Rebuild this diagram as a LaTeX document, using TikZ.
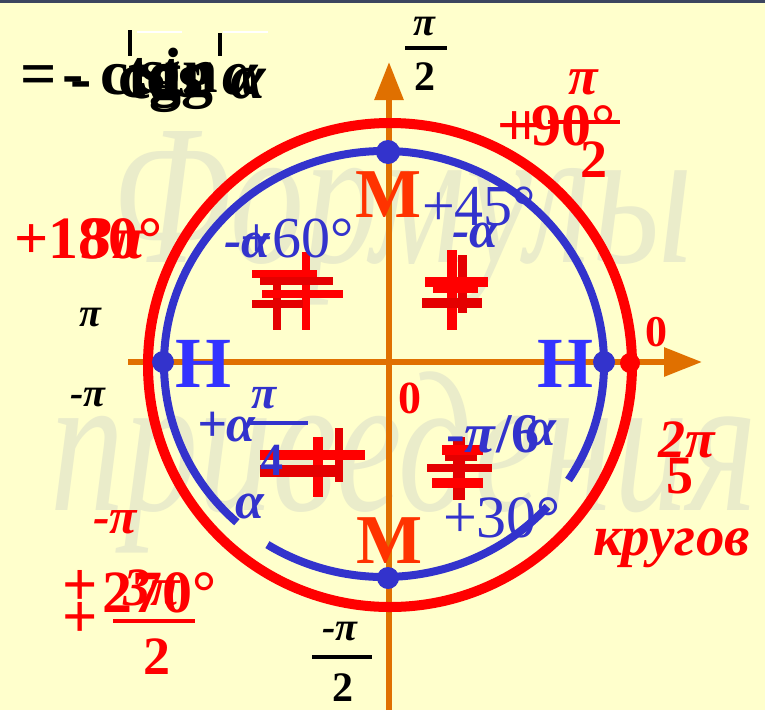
\documentclass[tikz,border=0pt]{standalone}
\usepackage{fontspec}
\setmainfont{Liberation Serif}
\usetikzlibrary{arrows.meta}
\definecolor{bg}{RGB}{255,255,204}
\definecolor{wm}{RGB}{234,236,202}
\definecolor{axiscol}{RGB}{224,112,0}
\definecolor{ringred}{RGB}{255,0,0}
\definecolor{dred}{RGB}{228,0,0}
\definecolor{ringblue}{RGB}{51,51,204}
\definecolor{hblue}{RGB}{51,51,255}
\definecolor{morange}{RGB}{255,51,0}
\definecolor{topline}{RGB}{60,70,95}
\newcommand\fsz[1]{\fontsize{#1}{#1}\selectfont}
\begin{document}
\begin{tikzpicture}[x=1pt,y=-1pt,
  lbl/.style={inner sep=0pt, outer sep=0pt},
  bw/.style={lbl, anchor=base west},
  axisline/.style={axiscol, line width=6pt, -{Triangle[length=38pt,width=28pt]}},
  redring/.style={ringred, line width=10pt},
  bluering/.style={ringblue, line width=8pt},
  crossA/.style={ringred, line width=8pt},
  crossB/.style={dred, line width=8pt},
  fbar/.style={line width=4.5pt},
  wmark/.style={bw, wm, font={\fsz{200}\itshape}, xscale=0.74},
  blob/.style={bw, black, font={\fsz{64}\bfseries}},
  blobi/.style={bw, black, font={\fsz{64}\bfseries\itshape}},
  mlet/.style={lbl, anchor=base, morange, font={\fsz{70}\bfseries}},
  hlet/.style={lbl, anchor=base, hblue, font={\fsz{72}\bfseries}},
  bdeg/.style={bw, ringblue, font={\fsz{58}}},
  balpha/.style={bw, ringblue, font={\fsz{52}\bfseries\itshape}},
  rbig/.style={bw, ringred, font={\fsz{60}\bfseries}},
  rpi/.style={lbl, ringred, font={\fsz{54}\bfseries\itshape}},
  rnum/.style={lbl, ringred, font={\fsz{54}\bfseries}},
  kpi/.style={lbl, black, font={\fsz{40}\bfseries\itshape}},
  knum/.style={lbl, black, font={\fsz{42}\bfseries}}
]
\useasboundingbox (0,0) rectangle (765,710);
\fill[bg] (0,0) rectangle (765,710);
\fill[topline] (0,0) rectangle (765,3);

% watermark
\node[wmark] (wm1) at (112,262) {Формулы};
\node[wmark] (wm2) at (50,510) {приведения};

% axes
\coordinate (vbot) at (389,710);
\coordinate (vtop) at (389,62);
\coordinate (hleft) at (128,362);
\coordinate (hright) at (702,362);
\draw[axisline] (vbot) -- (vtop);
\draw[axisline] (hleft) -- (hright);

% rings
\coordinate (rc) at (390,365);
\coordinate (bc) at (384,364);
\draw[redring] (rc) circle[radius=242];
\draw[bluering] ([shift={(33:220 and 213)}]bc) arc[start angle=33,end angle=-228,x radius=220,y radius=213];
\draw[bluering] ([shift={(-238:220 and 213)}]bc) arc[start angle=-238,end angle=-318,x radius=220,y radius=213];

% dots
\fill[ringblue] (388,152) circle[radius=12];
\fill[ringblue] (163,362) circle[radius=11];
\fill[ringblue] (604,362) circle[radius=11];
\fill[ringblue] (388,578) circle[radius=11];
\fill[ringred] (630,363) circle[radius=10];

% red crosses
\draw[crossA] (306,252) -- (306,330);
\draw[crossB] (277,275) -- (277,330);
\draw[crossA] (252,274) -- (317,274);
\draw[crossB] (260,281) -- (333,281);
\draw[crossA] (262,294) -- (343,294);
\draw[crossB] (252,304) -- (303,304);

\draw[crossA, line width=10pt] (452,250) -- (452,330);
\draw[crossB, line width=9pt] (462,255) -- (462,313);
\draw[crossA, line width=10pt] (425,282) -- (488,282);
\draw[crossB, line width=10pt] (422,303) -- (482,303);
\draw[crossA, line width=6pt] (433,290) -- (478,290);

\draw[crossA, line width=10pt] (318,437) -- (318,497);
\draw[crossB, line width=8pt] (339,428) -- (339,482);
\draw[crossA, line width=10pt] (260,455) -- (365,455);
\draw[crossB, line width=12pt] (260,471) -- (343,471);

\draw[crossB, line width=12pt] (459,437) -- (459,500);
\draw[crossA, line width=10pt] (442,450) -- (483,450);
\draw[crossB, line width=8pt] (427,468) -- (492,468);
\draw[crossA, line width=10pt] (432,483) -- (483,483);
\draw[crossB, line width=6pt] (445,458) -- (477,458);

% M and H
\node[mlet] (mtop) at (389,217) {M};
\node[mlet] (mbot) at (390,563) {M};
\node[hlet] (hl) at (203,387) {H};
\node[hlet] (hr) at (565,387) {H};

% black blob top-left (overlapping formulas)
\draw[white, line width=2pt] (137,32) -- (182,32);
\draw[white, line width=2pt] (223,32) -- (268,32);
\draw[black, line width=4pt] (130,30) -- (130,56);
\draw[black, line width=4pt] (220,33) -- (220,56);
\node[blob] (b1) at (20,95) {=};
\node[blob] (b2) at (62,94) {-};
\node[blob] (b3) at (70,99) {-};
\node[blob] (b4) at (100,94) {ctg};
\node[blob] (b5) at (118,97) {cos};
\node[blob] (b6) at (140,92) {sin};
\node[blob] (b7) at (160,95) {tg};
\node[blob] (b8) at (128,98) {tg};
\node[blobi] (b9) at (222,94) {α};
\node[blobi] (b10) at (230,98) {α};

% black pi/2 top
\node[kpi] (tpi) at (424,27) {π};
\draw[black, fbar] (405,48) -- (447,48);
\node[knum] (t2) at (425,77) {2};

% black pi, -pi
\node[kpi] (kpi1) at (90,318) {π};
\node[kpi] (kpi2) at (88,398) {-π};

% black -pi/2 bottom
\node[kpi] (bpi) at (340,632) {-π};
\draw[black, fbar] (312,657) -- (372,657);
\node[knum] (b2n) at (343,688) {2};

% red zeros
\node[lbl, ringred, font={\fsz{44}\bfseries}] (z1) at (656,332) {0};
\node[lbl, ringred, font={\fsz{46}\bfseries}] (z2) at (410,398) {0};

% red +180 / 3pi
\node[rbig] (r180) at (14,258) {+180°};
\node[bw, ringred, font={\fsz{60}\bfseries\itshape}] (r3pi) at (82,258) {3π};

% red +90 / pi/2
\node[rbig] (r90) at (497,145) {+90°};
\node[rbig] (r90b) at (510,145) {+};
\node[rpi] (rpiT) at (583,82) {π};
\draw[ringred, fbar] (548,122) -- (620,122);
\node[rnum] (r2T) at (594,160) {2};

% red -pi, +270, 3pi/2
\node[rpi, font={\fsz{50}\bfseries\itshape}] (rmpi) at (115,522) {-π};
\node[lbl, ringred, font={\fsz{62}\bfseries}] (rpl1) at (80,588) {+};
\node[lbl, ringred, font={\fsz{62}\bfseries}] (rpl2) at (80,620) {+};
\node[rbig] (r270) at (102,612) {270°};
\node[rpi] (r3piB) at (152,588) {3π};
\draw[ringred, fbar] (113,621) -- (195,621);
\node[rnum] (r2B) at (157,657) {2};

% red 2pi/5, кругов
\node[rpi] (r2pi) at (687,440) {2π};
\node[rnum] (r5) at (680,476) {5};
\node[bw, ringred, font={\fsz{57}\bfseries\itshape}] (krug) at (593,555) {кругов};

% blue labels
\node[bdeg] (d60) at (240,257) {+60°};
\node[balpha] (a1) at (224,257) {-α};
\node[bdeg] (d45) at (422,225) {+45°};
\node[balpha] (a2) at (452,247) {-α};
\node[balpha] (a3) at (197,441) {+α};
\node[lbl, ringblue, font={\fsz{46}\bfseries\itshape}] (bpi4) at (264,398) {π};
\draw[ringblue, line width=4pt] (247,423) -- (308,423);
\node[lbl, ringblue, font={\fsz{46}\bfseries}] (b4n) at (272,460) {4};
\node[lbl, ringblue, font={\fsz{52}\bfseries\itshape}] (a4) at (250,506) {α};
\node[bw, ringblue, font={\fsz{56}\bfseries}] (bpi6) at (446,452) {-\textit{π}/6};
\node[lbl, ringblue, font={\fsz{54}\bfseries\itshape}] (a5) at (541,433) {α};
\node[bdeg, font={\fsz{60}}] (d30) at (443,537) {+30°};
\end{tikzpicture}
\end{document}
